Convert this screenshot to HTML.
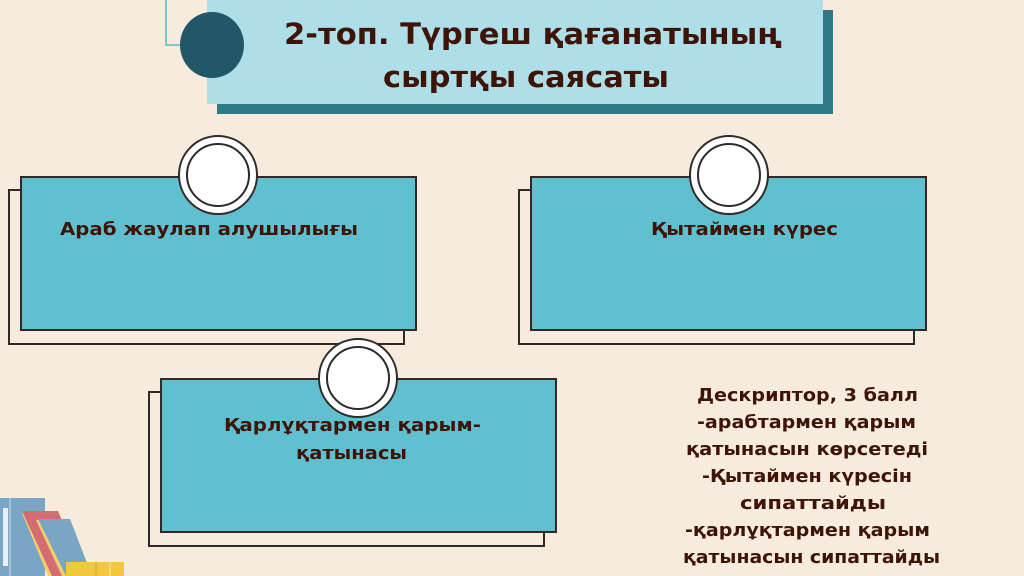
<!DOCTYPE html>
<html><head><meta charset="utf-8"><style>
html,body{margin:0;padding:0;background:#f7ebdd;}
svg{display:block}
text{font-family:"DejaVu Sans","Liberation Sans",sans-serif;font-weight:bold;fill:#3e1408;}
</style></head><body>
<svg width="1024" height="576" viewBox="0 0 1024 576">
<rect width="1024" height="576" fill="#f7ebdd"/>
<rect x="217" y="10" width="616" height="104" fill="#2f7a86"/>
<rect x="207" y="0" width="616" height="104" fill="#aedfe8"/>
<polyline points="166,0 166,45 185,45" fill="none" stroke="#5fb8bd" stroke-width="1.5"/>
<ellipse cx="212" cy="45" rx="32" ry="33" fill="#215766"/>
<text x="284" y="44" font-size="29" textLength="498" lengthAdjust="spacingAndGlyphs">2-топ. Түргеш қағанатының</text>
<text x="383" y="87" font-size="29" textLength="286" lengthAdjust="spacingAndGlyphs">сыртқы саясаты</text>

<g stroke="#2f2a28" stroke-width="2">
<rect x="9" y="190" width="395" height="154" fill="#f7ebdd"/>
<rect x="21" y="177" width="395" height="153" fill="#61c0cf"/>
<circle cx="218" cy="175" r="39" fill="#fff"/>
<circle cx="218" cy="175" r="31" fill="#fff"/>
<rect x="519" y="190" width="395" height="154" fill="#f7ebdd"/>
<rect x="531" y="177" width="395" height="153" fill="#61c0cf"/>
<circle cx="729" cy="175" r="39" fill="#fff"/>
<circle cx="729" cy="175" r="31" fill="#fff"/>
<rect x="149" y="392" width="395" height="154" fill="#f7ebdd"/>
<rect x="161" y="379" width="395" height="153" fill="#61c0cf"/>
<circle cx="358" cy="378" r="39" fill="#fff"/>
<circle cx="358" cy="378" r="31" fill="#fff"/>
</g>
<text x="60" y="235" font-size="18" textLength="298" lengthAdjust="spacingAndGlyphs">Араб жаулап алушылығы</text>
<text x="651" y="235" font-size="18" textLength="187" lengthAdjust="spacingAndGlyphs">Қытаймен күрес</text>
<text x="224" y="431" font-size="18" textLength="257" lengthAdjust="spacingAndGlyphs">Қарлұқтармен қарым-</text>
<text x="296" y="459" font-size="18" textLength="111" lengthAdjust="spacingAndGlyphs">қатынасы</text>

<g font-size="18">
<text x="697" y="401" textLength="221" lengthAdjust="spacingAndGlyphs">Дескриптор, 3 балл</text>
<text x="697" y="428" textLength="219" lengthAdjust="spacingAndGlyphs">-арабтармен қарым</text>
<text x="686" y="455" textLength="242" lengthAdjust="spacingAndGlyphs">қатынасын көрсетеді</text>
<text x="702" y="482" textLength="210" lengthAdjust="spacingAndGlyphs">-Қытаймен күресін</text>
<text x="740" y="509" textLength="146" lengthAdjust="spacingAndGlyphs">сипаттайды</text>
<text x="685" y="536" textLength="245" lengthAdjust="spacingAndGlyphs">-қарлұқтармен қарым</text>
<text x="683" y="563" textLength="257" lengthAdjust="spacingAndGlyphs">қатынасын сипаттайды</text>
</g>

<rect x="0" y="498" width="45" height="78" fill="#7aa6c6"/>
<line x1="10" y1="498" x2="10" y2="576" stroke="#c9dbe6" stroke-width="1"/>
<rect x="3" y="508" width="5" height="58" fill="#e8eef2"/>
<polygon points="22,513 58,511 85,576 48,576" fill="#f3cf6a"/>
<polygon points="22,511 58,511 85,576 52,576" fill="#d46d72"/>
<polygon points="36,520 70,519 92,576 62,576" fill="#f3cf6a"/>
<polygon points="38,519 70,519 92,576 66,576" fill="#7aa6c6"/>
<rect x="66" y="562" width="58" height="14" fill="#f3c83e"/>
<line x1="96" y1="562" x2="96" y2="576" stroke="#d9a52c"/>
<line x1="110" y1="562" x2="110" y2="576" stroke="#f7e4a0"/>
</svg>
</body></html>
